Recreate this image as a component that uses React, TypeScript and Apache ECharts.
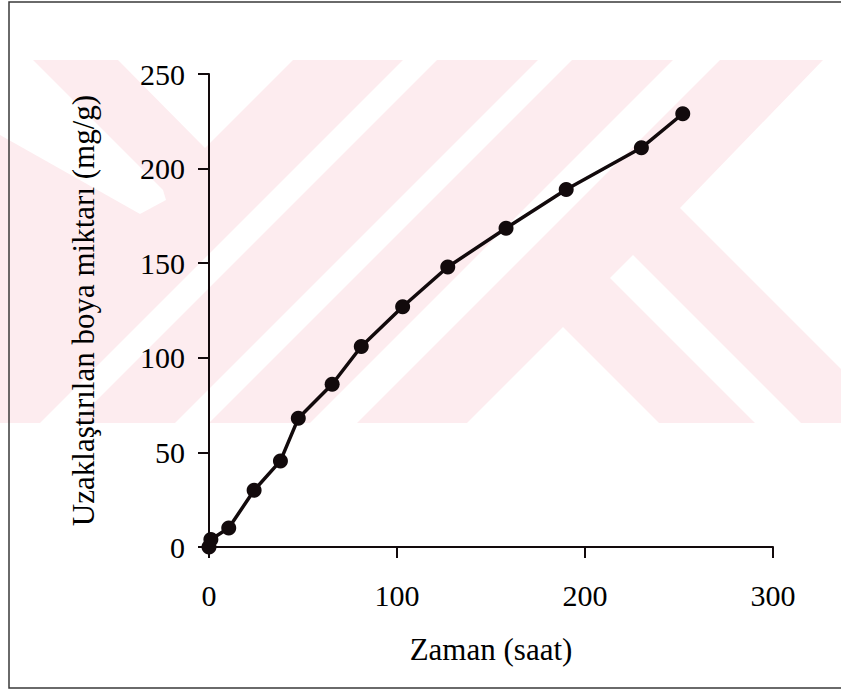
import React, { useEffect, useRef } from "react";
import * as echarts from "echarts";

// Adsorption run: time (hours) vs. amount of dye removed (mg/g)
const timeHours = [0, 1, 10.5, 24, 38, 47.5, 65.5, 81, 103, 127, 158, 190, 230, 252];
const dyeRemoved = [0, 4, 10, 30, 45.5, 68, 86, 106, 127, 148, 168.5, 189, 211, 229];

const xTicks = { min: 0, max: 300, interval: 100 };
const yTicks = { min: 0, max: 250, interval: 50 };

const xTitle = "Zaman (saat)";
const yTitle = "Uzaklaştırılan boya miktarı (mg/g)";

const FONT = "Liberation Serif";
const INK = "#120a0c";
const PINK = "#fdecef";

// faint background emblem: pink band with white diagonal cut-outs
const bandTop = 60;
const bandBottom = 423;
const whiteCuts: number[][][] = [
  [[0, 60], [33, 60], [163, 190], [166, 200], [140, 214], [0, 135]],
  [[118, 60], [293, 60], [205, 148]],
  [[403, 60], [437, 60], [74, 423], [40, 423]],
  [[538, 60], [572, 60], [209, 423], [175, 423]],
  [[673, 60], [720, 60], [357, 423], [310, 423]],
  [[823, 60], [841, 60], [841, 369], [680, 208]],
  [[633, 255], [801, 423], [755, 423], [610, 278]],
  [[563, 327], [659, 423], [467, 423]],
];

export default function App() {
  const ref = useRef<HTMLDivElement>(null);

  useEffect(() => {
    if (!ref.current) return;
    const chart = echarts.init(ref.current, undefined, { renderer: "svg" });

    const emblem: any[] = [
      {
        type: "rect",
        z: -10,
        silent: true,
        shape: { x: 0, y: bandTop, width: 841, height: bandBottom - bandTop },
        style: { fill: PINK },
      },
      ...whiteCuts.map((pts) => ({
        type: "polygon",
        z: -9,
        silent: true,
        shape: { points: pts },
        style: { fill: "#ffffff" },
      })),
      {
        type: "rect",
        z: 50,
        silent: true,
        shape: { x: 9, y: 2, width: 840, height: 686 },
        style: { fill: "none", stroke: "#3a3a3a", lineWidth: 1.5 },
      },
    ];

    chart.setOption({
      animation: false,
      backgroundColor: "#ffffff",
      graphic: { elements: emblem },
      grid: { left: 209, right: 68, top: 74, bottom: 146, containLabel: false },
      xAxis: {
        type: "value",
        min: xTicks.min,
        max: xTicks.max,
        interval: xTicks.interval,
        name: xTitle,
        nameLocation: "middle",
        nameGap: 87,
        nameTextStyle: { fontFamily: FONT, fontSize: 31, color: "#000" },
        axisLine: { show: true, onZero: false, lineStyle: { color: INK, width: 2 } },
        axisTick: { show: true, inside: false, length: 11, lineStyle: { color: INK, width: 2 } },
        axisLabel: { fontFamily: FONT, fontSize: 30, color: "#000", margin: 33 },
        splitLine: { show: false },
      },
      yAxis: {
        type: "value",
        min: yTicks.min,
        max: yTicks.max,
        interval: yTicks.interval,
        name: yTitle,
        nameLocation: "middle",
        nameGap: 110,
        nameRotate: 90,
        nameTextStyle: { fontFamily: FONT, fontSize: 31, color: "#000" },
        axisLine: { show: true, lineStyle: { color: INK, width: 2 } },
        axisTick: { show: true, inside: false, length: 11, lineStyle: { color: INK, width: 2 } },
        axisLabel: { fontFamily: FONT, fontSize: 30, color: "#000", margin: 24 },
        splitLine: { show: false },
      },
      series: [
        {
          type: "line",
          data: timeHours.map((t, i) => [t, dyeRemoved[i]]),
          symbol: "circle",
          symbolSize: 15,
          showSymbol: true,
          lineStyle: { color: INK, width: 3.5 },
          itemStyle: { color: INK, borderWidth: 0 },
          z: 5,
        },
      ],
    });

    return () => chart.dispose();
  }, []);

  return (
    <div
      ref={ref}
      style={{ position: "fixed", left: 0, top: 0, width: 841, height: 693, background: "#fff" }}
    />
  );
}
